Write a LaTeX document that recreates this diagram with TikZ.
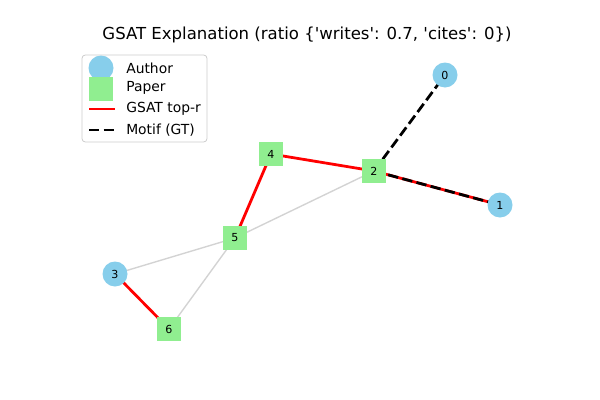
\documentclass[tikz,border=0pt]{standalone}
\usepackage{fontspec}
\setmainfont{DejaVu Sans}[Ligatures=TeXOff]
\definecolor{authorc}{HTML}{87CEEB}
\definecolor{paperc}{HTML}{90EE90}
\definecolor{faint}{HTML}{D3D3D3}
\definecolor{framec}{HTML}{CCCCCC}
\begin{document}
\begin{tikzpicture}[x=0.75pt,y=-0.75pt,
  author/.style={circle,fill=authorc,minimum size=18.75pt,inner sep=0pt,font=\fontsize{8.3}{9}\selectfont},
  paper/.style={rectangle,fill=paperc,minimum size=18.5pt,inner sep=0pt,font=\fontsize{8.3}{9}\selectfont},
  plainedge/.style={draw=faint,line width=1.04pt},
  topr/.style={draw=red,line width=2.08pt},
  motif/.style={draw=black,line width=2.08pt,dash pattern=on 7.7pt off 3.3pt},
  legtext/.style={anchor=west,font=\fontsize{10.4}{12}\selectfont,inner sep=0pt}]
\useasboundingbox (0,0) rectangle (600,400);
% title
\node[font=\fontsize{12.4}{14}\selectfont] (title) at (307,35) {GSAT Explanation (ratio \{'writes': 0.7, 'cites': 0\})};
% node positions
\coordinate (p0) at (445,75);
\coordinate (p1) at (500,205);
\coordinate (p2) at (374,171);
\coordinate (p3) at (115,274);
\coordinate (p4) at (271,154);
\coordinate (p5) at (235,238);
\coordinate (p6) at (169,329);
% edges
\draw[plainedge] (p5) -- (p3);
\draw[plainedge] (p5) -- (p6);
\draw[plainedge] (p5) -- (p2);
\draw[topr] (p4) -- (p2);
\draw[topr] (p4) -- (p5);
\draw[topr] (p3) -- (p6);
\draw[topr] (p2) -- (p1);
\draw[motif] (p2) -- (p1);
\draw[motif] (p2) -- (p0);
\node[author] (n0) at (p0) {0};
\node[author] (n1) at (p1) {1};
\node[paper] (n2) at (p2) {2};
\node[author] (n3) at (p3) {3};
\node[paper] (n4) at (p4) {4};
\node[paper] (n5) at (p5) {5};
\node[paper] (n6) at (p6) {6};
% legend
\draw[framec,rounded corners=2.5pt,fill=white,line width=0.6pt] (82,55) rectangle (207,142);
\node[author] (la) at (101,68) {};
\node[paper] (lp) at (101,89) {};
\coordinate (lra) at (89,109);
\coordinate (lrb) at (115,109);
\draw[topr] (lra) -- (lrb);
\coordinate (lma) at (89,130);
\coordinate (lmb) at (115,130);
\draw[motif] (lma) -- (lmb);
\node[legtext] (ta) at (126,68) {Author};
\node[legtext] (tp) at (126,88) {Paper};
\node[legtext] (tr) at (126,109) {GSAT top-r};
\node[legtext] (tm) at (126,130) {Motif (GT)};
\end{tikzpicture}
\end{document}
